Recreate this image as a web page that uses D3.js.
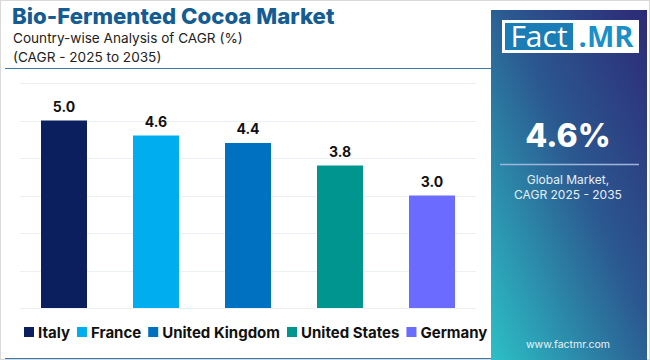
<!DOCTYPE html>
<html><head><meta charset="utf-8">
<script src="https://cdn.jsdelivr.net/npm/d3@7"></script>
<style>
html,body{margin:0;padding:0;background:#fff;}
svg{display:block;font-family:Inter, "Noto Sans", sans-serif;}
</style></head>
<body>
<svg id="c" width="650" height="360"></svg>
<script>
const categories = ["Italy","France","United Kingdom","United States","Germany"];
const values = [5.0, 4.6, 4.4, 3.8, 3.0];
const colors = ["#0b1f5e","#00aeef","#0070c0","#00968f","#6b6bff"];
const yTicks = [0,1,2,3,4,5,6];
const globalCagr = "4.6%";

const svg = d3.select("#c");
const W = 650, H = 360;

// outer frame
svg.append("rect").attr("x",0.5).attr("y",0.5).attr("width",W-1).attr("height",H-1)
  .attr("fill","#fff").attr("stroke","#d9d9d9");

// right panel gradient
const defs = svg.append("defs");
const g1 = defs.append("linearGradient").attr("id","pg").attr("x1","1").attr("y1","0").attr("x2","0").attr("y2","1");
g1.append("stop").attr("offset","0").attr("stop-color","#2d2a76");
g1.append("stop").attr("offset","0.45").attr("stop-color","#2b5890");
g1.append("stop").attr("offset","1").attr("stop-color","#2cc0c6");
svg.append("rect").attr("x",491).attr("y",10).attr("width",156).attr("height",350).attr("fill","url(#pg)");

// logo
svg.append("rect").attr("x",502).attr("y",20).attr("width",137).attr("height",33).attr("fill","#fff");
svg.append("rect").attr("x",505).attr("y",23).attr("width",68).attr("height",27).attr("fill","#1b7db5");
svg.append("text").attr("x",539).attr("y",47).attr("text-anchor","middle").attr("fill","#fff")
  .attr("font-size",30).attr("font-weight",400).attr("font-family","'Open Sans', sans-serif").text("Fact");
svg.append("text").attr("x",606).attr("y",47).attr("text-anchor","middle").attr("fill","#1a8fc8")
  .attr("font-size",29).attr("font-weight",700).attr("font-family","'Open Sans', sans-serif").text(".MR");

// panel text
svg.append("text").attr("x",568).attr("y",147).attr("text-anchor","middle").attr("fill","#fff")
  .attr("font-size",32).attr("font-weight",800).text(globalCagr);
svg.append("line").attr("x1",500).attr("x2",639).attr("y1",164.5).attr("y2",164.5).attr("stroke","#9fb6db").attr("stroke-width",1.5);
svg.append("text").attr("x",568).attr("y",184).attr("text-anchor","middle").attr("fill","#e6f0f7")
  .attr("font-size",12).text("Global Market,");
svg.append("text").attr("x",568).attr("y",199).attr("text-anchor","middle").attr("fill","#e6f0f7")
  .attr("font-size",12).text("CAGR 2025 - 2035");
svg.append("text").attr("x",568).attr("y",348).attr("text-anchor","middle").attr("fill","#e8f4f8")
  .attr("font-size",10.5).text("www.factmr.com");

// titles
svg.append("text").attr("x",12).attr("y",24).attr("fill","#145c91")
  .attr("font-size",22.2).attr("font-weight",800).text("Bio-Fermented Cocoa Market");
svg.append("text").attr("x",13).attr("y",43).attr("fill","#222")
  .attr("font-size",13.6).text("Country-wise Analysis of CAGR (%)");
svg.append("text").attr("x",13).attr("y",62).attr("fill","#222")
  .attr("font-size",13.6).text("(CAGR - 2025 to 2035)");
svg.append("line").attr("x1",5).attr("x2",491).attr("y1",68.5).attr("y2",68.5).attr("stroke","#3a78a8").attr("stroke-width",1.2);
svg.append("line").attr("x1",5).attr("x2",491).attr("y1",358.5).attr("y2",358.5).attr("stroke","#3a78a8").attr("stroke-width",1.2);

// scales
const x = d3.scaleBand().domain(categories).range([18,478]).paddingInner(0.5).paddingOuter(0.25);
const y = d3.scaleLinear().domain([0,6]).range([308,83]);

// grid
svg.append("g").selectAll("line").data(yTicks).join("line")
  .attr("x1",20).attr("x2",476).attr("y1",d=>Math.round(y(d))+0.5).attr("y2",d=>Math.round(y(d))+0.5)
  .attr("stroke","#eceff3").attr("stroke-width",1);

// bars
svg.append("g").selectAll("rect").data(values).join("rect")
  .attr("x",(d,i)=>x(categories[i])).attr("width",x.bandwidth())
  .attr("y",d=>y(d)).attr("height",d=>y(0)-y(d)).attr("fill",(d,i)=>colors[i]);

svg.append("g").selectAll("text").data(values).join("text")
  .attr("x",(d,i)=>x(categories[i])+x.bandwidth()/2).attr("y",d=>y(d)-9)
  .attr("text-anchor","middle").attr("font-size",14).attr("font-weight",700).attr("fill","#111")
  .text(d=>d.toFixed(1));

// legend
const leg = svg.append("g");
let lx = 24;
const gapAfter = 7;
categories.forEach((c,i)=>{
  leg.append("rect").attr("x",lx).attr("y",327).attr("width",10).attr("height",10).attr("fill",colors[i]);
  const t = leg.append("text").attr("x",lx+14).attr("y",337.5).attr("font-size",15).attr("font-weight",700)
    .attr("fill","#111").text(c);
  const w = t.node().getComputedTextLength();
  lx = lx + 14 + w + gapAfter;
});
</script>
</body></html>
